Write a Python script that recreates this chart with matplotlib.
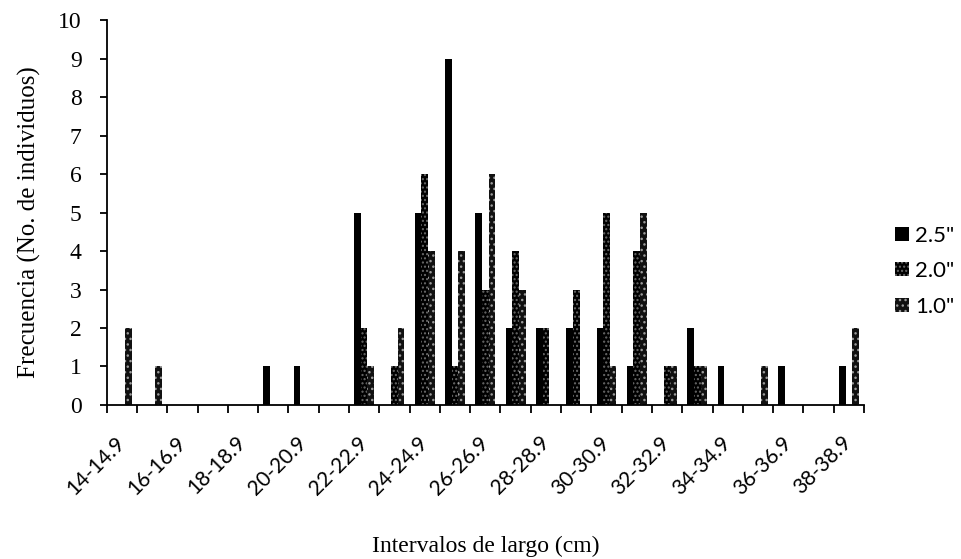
import numpy as np
import matplotlib
matplotlib.use("Agg")
import matplotlib.pyplot as plt

# data
intervalos = ["14-14.9", "15-15.9", "16-16.9", "17-17.9", "18-18.9", "19-19.9",
              "20-20.9", "21-21.9", "22-22.9", "23-23.9", "24-24.9", "25-25.9",
              "26-26.9", "27-27.9", "28-28.9", "29-29.9", "30-30.9", "31-31.9",
              "32-32.9", "33-33.9", "34-34.9", "35-35.9", "36-36.9", "37-37.9",
              "38-38.9"]
malla_25 = [0, 0, 0, 0, 0, 1, 1, 0, 5, 0, 5, 9, 5, 2, 2, 2, 2, 1, 0, 2, 1, 0, 1, 0, 1]
malla_20 = [0, 0, 0, 0, 0, 0, 0, 0, 2, 1, 6, 1, 3, 4, 2, 3, 5, 4, 1, 1, 0, 0, 0, 0, 0]
malla_10 = [2, 1, 0, 0, 0, 0, 0, 0, 1, 2, 4, 4, 6, 3, 0, 0, 1, 5, 1, 1, 0, 1, 0, 0, 2]
series = ['2.5"', '2.0"', '1.0"']

fig = plt.figure(figsize=(9.62, 5.59), dpi=100)
ax = fig.add_axes([0.1109, 0.2755, 0.7872, 0.6887])

x = np.arange(len(intervalos))
w = 0.218
ax.bar(x - w, malla_25, w, color="black", linewidth=0, label=series[0])
ax.bar(x, malla_20, w, color="black", edgecolor="#6a6a6a", hatch="....",
       linewidth=0, label=series[1])
ax.bar(x + w, malla_10, w, color="#111111", edgecolor="#9a9a9a", hatch="...",
       linewidth=0, label=series[2])

ax.set_xlim(-0.5, len(intervalos) - 0.5)
ax.set_ylim(0, 10)
ax.set_yticks(range(0, 11))
ax.set_yticklabels([str(i) for i in range(0, 11)], fontfamily="Liberation Serif", fontsize=17)

# tick marks on category boundaries, labels on every other category
ax.set_xticks(np.arange(-0.5, len(intervalos), 1.0))
ax.set_xticklabels([])
ax.set_xticks(x[::2], minor=True)
ax.set_xticklabels(intervalos[::2], minor=True, rotation=45, ha="right", va="center",
                   rotation_mode="anchor", fontfamily="Lato", fontsize=15)
ax.tick_params(axis="x", which="major", length=6, width=1.3, direction="out")
ax.tick_params(axis="x", which="minor", length=0, pad=25)
ax.tick_params(axis="y", length=5, width=1.3, direction="out", pad=13)

for s in ["top", "right"]:
    ax.spines[s].set_visible(False)
for s in ["left", "bottom"]:
    ax.spines[s].set_linewidth(1.3)

ax.set_ylabel("Frecuencia (No. de individuos)", fontfamily="Liberation Serif", fontsize=18)
ax.yaxis.set_label_coords(-0.087, 0.474)
fig.text(0.505, 0.013, "Intervalos de largo (cm)", ha="center", va="baseline",
         fontfamily="Liberation Serif", fontsize=17)

ax.legend(loc="center left", bbox_to_anchor=(0.91, 0.515), bbox_transform=fig.transFigure,
          frameon=False, prop={"family": "Lato", "size": 16}, handlelength=0.6,
          handleheight=0.6, handletextpad=0.3, labelspacing=0.7)

fig.savefig("out.png", dpi=100)
